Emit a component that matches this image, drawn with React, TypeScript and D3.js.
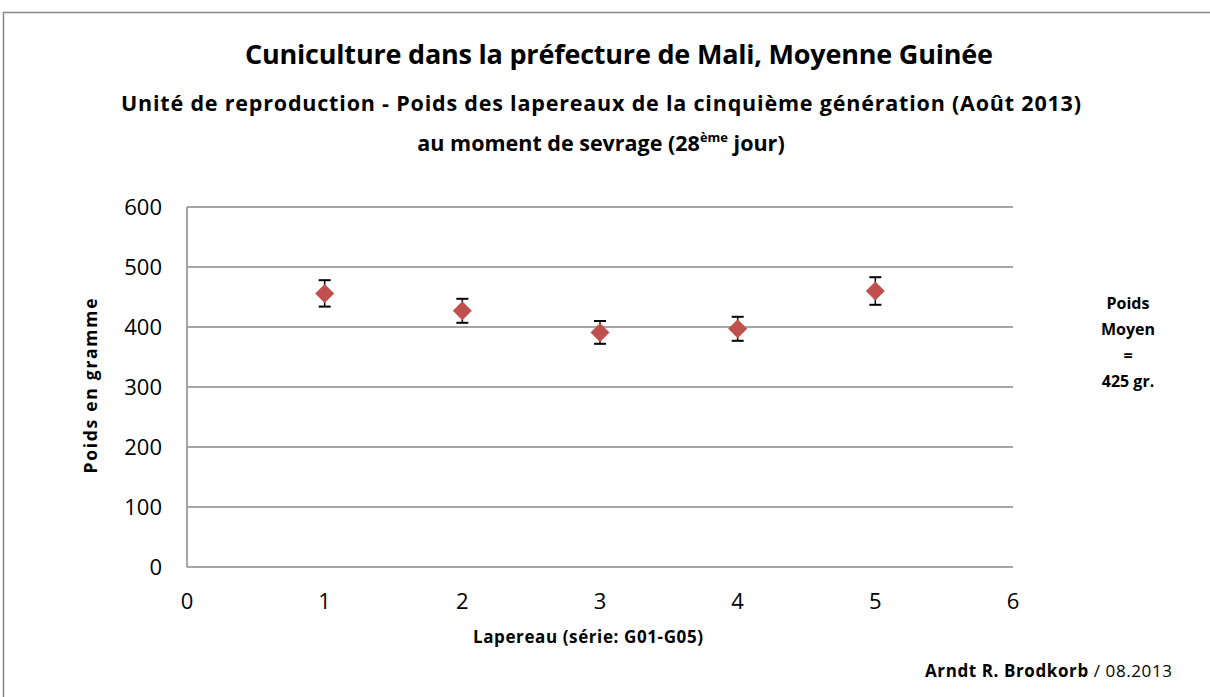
import * as d3 from 'd3';
import { useEffect, useRef } from 'react';

// lapereaux G01-G05, poids au sevrage (gr.)
const lapereaux = [1, 2, 3, 4, 5];
const poids = [456, 427, 391, 397, 460];
const ecarts = [22, 20, 19, 20, 23];
const yTicks = [0, 100, 200, 300, 400, 500, 600];
const xTicks = [0, 1, 2, 3, 4, 5, 6];
const moyenneLignes = ['Poids', 'Moyen', '=', '425 gr.'];

const FONT = '"Open Sans", "Noto Sans", sans-serif';

const App = () => {
    const ref = useRef<any>();
    const dims = {
        width: 1210,
        height: 697,
        margin: { top: 207, right: 197, bottom: 130, left: 187 }
    };
    const boundedWidth = dims.width - dims.margin.left - dims.margin.right;
    const boundedHeight = dims.height - dims.margin.top - dims.margin.bottom;

    useEffect(() => {
        const svg = d3.select(ref.current);
        svg.selectAll('*').remove();
        svg.attr('width', dims.width).attr('height', dims.height);

        // cadre exterieur
        svg.append('path')
            .attr('d', `M3.5,${dims.height + 5} V12.5 H${dims.width + 5}`)
            .attr('fill', 'none')
            .attr('stroke', '#868686')
            .attr('stroke-width', 1.5);

        const x = d3.scaleLinear().domain([0, 6]).range([0, boundedWidth]);
        const y = d3.scaleLinear().domain([0, 600]).range([boundedHeight, 0]);

        const stage = svg.append('g')
            .attr('transform', `translate(${dims.margin.left}, ${dims.margin.top})`);

        // grille
        stage.selectAll('.grid').data(yTicks.filter(d => d > 0)).join('line')
            .attr('class', 'grid')
            .attr('x1', 0).attr('x2', boundedWidth)
            .attr('y1', d => y(d)).attr('y2', d => y(d))
            .attr('stroke', '#888888')
            .attr('stroke-width', 1.5);

        // axes
        stage.append('line')
            .attr('x1', 0).attr('x2', 0).attr('y1', 0).attr('y2', boundedHeight)
            .attr('stroke', '#888888').attr('stroke-width', 1.5);
        stage.append('line')
            .attr('x1', 0).attr('x2', boundedWidth).attr('y1', boundedHeight).attr('y2', boundedHeight)
            .attr('stroke', '#888888').attr('stroke-width', 1.5);

        stage.selectAll('.ylab').data(yTicks).join('text')
            .attr('class', 'ylab')
            .attr('x', -25)
            .attr('y', d => y(d))
            .attr('dy', '0.36em')
            .attr('text-anchor', 'end')
            .attr('font-family', FONT)
            .attr('font-size', 22)
            .attr('fill', '#000')
            .text(d => d);

        stage.selectAll('.xlab').data(xTicks).join('text')
            .attr('class', 'xlab')
            .attr('x', d => x(d))
            .attr('y', boundedHeight + 42)
            .attr('text-anchor', 'middle')
            .attr('font-family', FONT)
            .attr('font-size', 22)
            .attr('fill', '#000')
            .text(d => d);

        const pts = lapereaux.map((l, i) => ({ l, v: poids[i], e: ecarts[i] }));

        // barres d'erreur
        const err = stage.selectAll('.err').data(pts).join('g').attr('class', 'err');
        err.append('line')
            .attr('x1', d => x(d.l)).attr('x2', d => x(d.l))
            .attr('y1', d => y(d.v + d.e)).attr('y2', d => y(d.v - d.e))
            .attr('stroke', '#000').attr('stroke-width', 1.5);
        err.selectAll('.cap').data(d => [d.v + d.e, d.v - d.e].map(v => ({ l: d.l, v }))).join('line')
            .attr('class', 'cap')
            .attr('x1', d => x(d.l) - 6).attr('x2', d => x(d.l) + 6)
            .attr('y1', d => y(d.v)).attr('y2', d => y(d.v))
            .attr('stroke', '#000').attr('stroke-width', 2);

        const diamond = d3.symbol().type(d3.symbolDiamond2).size(230);
        stage.selectAll('.pt').data(pts).join('path')
            .attr('class', 'pt')
            .attr('d', diamond)
            .attr('transform', d => `translate(${x(d.l)}, ${y(d.v)})`)
            .attr('fill', '#C0504D');

        // titres
        svg.append('text')
            .attr('x', 619).attr('y', 64)
            .attr('text-anchor', 'middle')
            .attr('font-family', FONT).attr('font-weight', 'bold').attr('font-size', 27)
            .attr('textLength', 748).attr('lengthAdjust', 'spacing')
            .text('Cuniculture dans la préfecture de Mali, Moyenne Guinée');
        svg.append('text')
            .attr('x', 601).attr('y', 111)
            .attr('text-anchor', 'middle')
            .attr('font-family', FONT).attr('font-weight', 'bold').attr('font-size', 21.5)
            .attr('textLength', 960).attr('lengthAdjust', 'spacing')
            .text('Unité de reproduction - Poids des lapereaux de la cinquième génération (Août 2013)');
        const sub2 = svg.append('text')
            .attr('x', 601).attr('y', 151)
            .attr('text-anchor', 'middle')
            .attr('font-family', FONT).attr('font-weight', 'bold').attr('font-size', 21.5);
        sub2.append('tspan').text('au moment de sevrage (28');
        sub2.append('tspan').attr('font-size', 13).attr('dy', -9).text('ème');
        sub2.append('tspan').attr('dy', 9).text(' jour)');

        // titres des axes
        svg.append('text')
            .attr('transform', `translate(97, 386) rotate(-90)`)
            .attr('text-anchor', 'middle')
            .attr('font-family', FONT).attr('font-weight', 'bold').attr('font-size', 17.5)
            .attr('textLength', 175).attr('lengthAdjust', 'spacing')
            .text('Poids en gramme');
        svg.append('text')
            .attr('x', 588).attr('y', 643)
            .attr('text-anchor', 'middle')
            .attr('font-family', FONT).attr('font-weight', 'bold').attr('font-size', 17)
            .attr('textLength', 230).attr('lengthAdjust', 'spacing')
            .text('Lapereau (série: G01-G05)');

        svg.selectAll('.moy').data(moyenneLignes).join('text')
            .attr('class', 'moy')
            .attr('x', 1128)
            .attr('y', (d, i) => 309 + i * 26)
            .attr('text-anchor', 'middle')
            .attr('font-family', FONT).attr('font-weight', 'bold').attr('font-size', 16)
            .text(d => d);

        const sig = svg.append('text')
            .attr('x', 925).attr('y', 677)
            .attr('text-anchor', 'start')
            .attr('font-family', FONT).attr('font-size', 17)
            .attr('textLength', 247).attr('lengthAdjust', 'spacing');
        sig.append('tspan').attr('font-weight', 'bold').text('Arndt R. Brodkorb');
        sig.append('tspan').text(' / 08.2013');
    }, []);

    return (
        <div style={{ position: 'absolute', left: 0, top: 0, background: '#fff' }}>
            <svg ref={ref} style={{ display: 'block' }}></svg>
        </div>
    );
};

export default App;
